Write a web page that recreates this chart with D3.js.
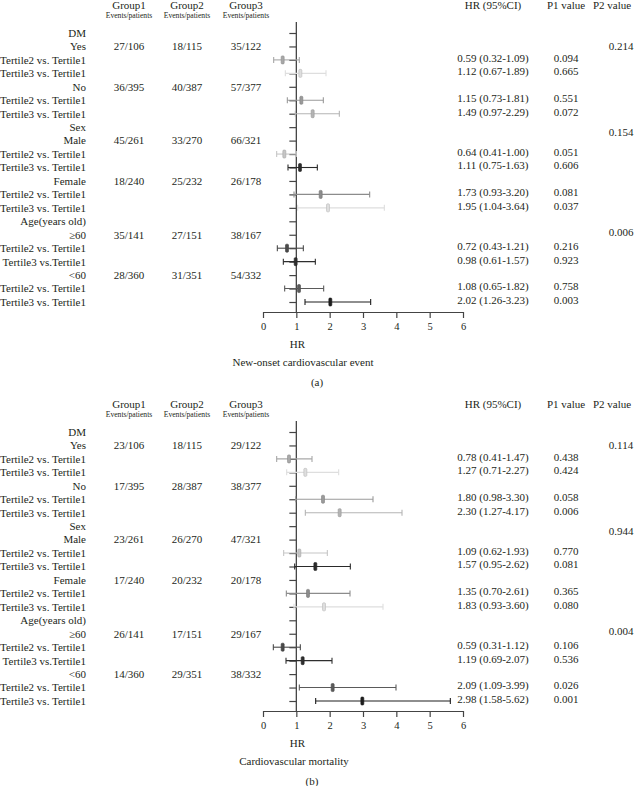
<!DOCTYPE html>
<html>
<head>
<meta charset="utf-8">
<script src="https://cdn.jsdelivr.net/npm/d3@7"></script>
<style>
  body { margin: 0; background: #fff; }
  svg text { font-family: "Liberation Serif", "Times New Roman", serif; fill: #231f20; }
</style>
</head>
<body>
<div class="chart"></div>
<script>
// row labels shared by both panels
var rowLabels = [
  "DM", "Yes", "Tertile2 vs. Tertile1", "Tertile3 vs. Tertile1",
  "No", "Tertile2 vs. Tertile1", "Tertile3 vs. Tertile1",
  "Sex", "Male", "Tertile2 vs. Tertile1", "Tertile3 vs. Tertile1",
  "Female", "Tertile2 vs. Tertile1", "Tertile3 vs. Tertile1",
  "Age(years old)", "≥60", "Tertile2 vs. Tertile1", "Tertile3 vs.Tertile1",
  "<60", "Tertile2 vs. Tertile1", "Tertile3 vs. Tertile1"
];
var groupNames = ["Group1", "Group2", "Group3"];
var xTicks = [0, 1, 2, 3, 4, 5, 6];

// panel (a) - new-onset cardiovascular event
var group1A = ["27/106", "36/395", "45/261", "18/240", "35/141", "28/360"];
var group2A = ["18/115", "40/387", "33/270", "25/232", "27/151", "31/351"];
var group3A = ["35/122", "57/377", "66/321", "26/178", "38/167", "54/332"];
var hrA   = [0.59, 1.12, 1.15, 1.49, 0.64, 1.11, 1.73, 1.95, 0.72, 0.98, 1.08, 2.02];
var lowA  = [0.32, 0.67, 0.73, 0.97, 0.41, 0.75, 0.93, 1.04, 0.43, 0.61, 0.65, 1.26];
var highA = [1.09, 1.89, 1.81, 2.29, 1.00, 1.63, 3.20, 3.64, 1.21, 1.57, 1.82, 3.23];
var p1A = ["0.094", "0.665", "0.551", "0.072", "0.051", "0.606", "0.081", "0.037", "0.216", "0.923", "0.758", "0.003"];
var p2A = ["0.214", "0.154", "0.006"];

// panel (b) - cardiovascular mortality
var group1B = ["23/106", "17/395", "23/261", "17/240", "26/141", "14/360"];
var group2B = ["18/115", "28/387", "26/270", "20/232", "17/151", "29/351"];
var group3B = ["29/122", "38/377", "47/321", "20/178", "29/167", "38/332"];
var hrB   = [0.78, 1.27, 1.80, 2.30, 1.09, 1.57, 1.35, 1.83, 0.59, 1.19, 2.09, 2.98];
var lowB  = [0.41, 0.71, 0.98, 1.27, 0.62, 0.95, 0.70, 0.93, 0.31, 0.69, 1.09, 1.58];
var highB = [1.47, 2.27, 3.30, 4.17, 1.93, 2.62, 2.61, 3.60, 1.12, 2.07, 3.99, 5.62];
var p1B = ["0.438", "0.424", "0.058", "0.006", "0.770", "0.081", "0.365", "0.080", "0.106", "0.536", "0.026", "0.001"];
var p2B = ["0.114", "0.944", "0.004"];

// styling of each comparison row (grey shades, same in both panels)
var markColors = ["#a8a8a8", "#dedede", "#9a9a9a", "#b4b4b4", "#c6c6c6", "#2a2a2a",
                  "#8c8c8c", "#dedede", "#4a4a4a", "#2e2e2e", "#5a5a5a", "#1e1e1e"];
// where the P2 values sit (in row units)
var p2Rows = [1, 7.4, 14.8];

var svgWidth = 638;
var svgHeight = 786;

var svg = d3.select(".chart")
  .append("svg")
  .attr("width", svgWidth)
  .attr("height", svgHeight);

var panels = [
  { offset: 0, groups: [group1A, group2A, group3A], hr: hrA, low: lowA, high: highA, p1: p1A, p2: p2A,
    title: "New-onset cardiovascular event", titleX: 303, letter: "(a)", letterX: 317 },
  { offset: 399, groups: [group1B, group2B, group3B], hr: hrB, low: lowB, high: highB, p1: p1B, p2: p2B,
    title: "Cardiovascular mortality", titleX: 294, letter: "(b)", letterX: 312 }
];

// column positions
var labelRight = 86;
var groupX = [129, 187, 246];
var hrTextX = 493, p1X = 566, p2X = 621;

var comparisonRows = d3.range(rowLabels.length).filter(i => rowLabels[i].indexOf("Tertile") === 0);
var subgroupRows = d3.range(rowLabels.length).filter(i =>
  rowLabels[i].indexOf("Tertile") !== 0 && i + 1 < rowLabels.length && rowLabels[i + 1].indexOf("Tertile") === 0);

panels.forEach(function(p) {
  var g = svg.append("g").attr("transform", `translate(0, ${p.offset})`);

  var x = d3.scaleLinear().domain([0, 6]).range([263, 463]);
  var y = d3.scaleLinear().domain([0, rowLabels.length - 1]).range([33, 302]);
  var axisY = y(rowLabels.length - 1) + 10;

  // headers
  g.selectAll(".grp").data(groupNames).enter().append("text")
    .attr("x", (d, i) => groupX[i]).attr("y", 8.5)
    .attr("text-anchor", "middle").attr("font-size", 11).text(d => d);
  g.selectAll(".ep").data(groupNames).enter().append("text")
    .attr("x", (d, i) => groupX[i]).attr("y", 17.5)
    .attr("text-anchor", "middle").attr("font-size", 7.6).text("Events/patients");
  g.append("text").attr("x", hrTextX).attr("y", 8.5).attr("text-anchor", "middle")
    .attr("font-size", 11).text("HR (95%CI)");
  g.append("text").attr("x", p1X).attr("y", 8.5).attr("text-anchor", "middle")
    .attr("font-size", 11).text("P1 value");
  g.append("text").attr("x", 593).attr("y", 8.5)
    .attr("font-size", 11).text("P2 value");

  // row labels
  g.selectAll(".lbl").data(rowLabels).enter().append("text")
    .attr("x", labelRight).attr("y", (d, i) => y(i)).attr("dy", "0.35em")
    .attr("text-anchor", "end").attr("font-size", 11).text(d => d);

  // events / patients
  p.groups.forEach(function(col, c) {
    g.selectAll(".ev" + c).data(col).enter().append("text")
      .attr("x", groupX[c]).attr("y", (d, i) => y(subgroupRows[i])).attr("dy", "0.35em")
      .attr("text-anchor", "middle").attr("font-size", 11).text(d => d);
  });

  // reference line at HR = 1 with row ticks
  g.append("line")
    .attr("x1", x(1)).attr("x2", x(1))
    .attr("y1", y(0) - 11).attr("y2", axisY)
    .attr("stroke", "#444").attr("stroke-width", 1.3);

  var rowAxis = d3.axisLeft(y).tickValues(d3.range(rowLabels.length)).tickSize(7).tickSizeOuter(0).tickFormat("");
  var ra = g.append("g").attr("transform", `translate(${x(1)},0)`).call(rowAxis);
  ra.select(".domain").remove();
  ra.selectAll("line").attr("stroke", "#444").attr("stroke-width", 1.2);

  // x axis
  var bottomAxis = d3.axisBottom(x).tickValues(xTicks).tickFormat(d3.format("d"))
    .tickSize(6).tickSizeOuter(0).tickPadding(5);
  var xa = g.append("g").attr("transform", `translate(0, ${axisY})`).call(bottomAxis);
  xa.select(".domain").attr("stroke", "#444").attr("stroke-width", 1.2);
  xa.selectAll("line").attr("stroke", "#444").attr("stroke-width", 1.2);
  xa.selectAll("text").attr("font-size", 10.5).attr("font-family", "Liberation Serif, serif").attr("fill", "#231f20");

  // confidence intervals
  var rows = comparisonRows.map((r, i) => ({ row: r, hr: p.hr[i], low: p.low[i], high: p.high[i], p1: p.p1[i], color: markColors[i] }));
  var ci = g.selectAll(".ci").data(rows).enter().append("g");
  ci.append("line")
    .attr("x1", d => x(d.low)).attr("x2", d => x(d.high))
    .attr("y1", d => y(d.row)).attr("y2", d => y(d.row))
    .attr("stroke", d => d.color).attr("stroke-width", 1.1);
  ci.append("line")
    .attr("x1", d => x(d.low)).attr("x2", d => x(d.low))
    .attr("y1", d => y(d.row) - 3).attr("y2", d => y(d.row) + 3)
    .attr("stroke", d => d.color).attr("stroke-width", 1.1);
  ci.append("line")
    .attr("x1", d => x(d.high)).attr("x2", d => x(d.high))
    .attr("y1", d => y(d.row) - 3).attr("y2", d => y(d.row) + 3)
    .attr("stroke", d => d.color).attr("stroke-width", 1.1);
  ci.append("rect")
    .attr("x", d => x(d.hr) - 1.5).attr("y", d => y(d.row) - 4)
    .attr("width", 3).attr("height", 8).attr("rx", 1)
    .attr("fill", d => d.color)
    .attr("stroke", d => d3.color(d.color).darker(0.5)).attr("stroke-width", 0.6);

  // HR text and P values
  g.selectAll(".hrt").data(rows).enter().append("text")
    .attr("x", hrTextX).attr("y", d => y(d.row) - 2).attr("dy", "0.35em")
    .attr("text-anchor", "middle").attr("font-size", 11)
    .text(d => `${d.hr.toFixed(2)} (${d.low.toFixed(2)}-${d.high.toFixed(2)})`);
  g.selectAll(".p1").data(rows).enter().append("text")
    .attr("x", p1X).attr("y", d => y(d.row) - 2).attr("dy", "0.35em")
    .attr("text-anchor", "middle").attr("font-size", 11).text(d => d.p1);
  g.selectAll(".p2").data(p.p2).enter().append("text")
    .attr("x", p2X).attr("y", (d, i) => y(p2Rows[i])).attr("dy", "0.35em")
    .attr("text-anchor", "middle").attr("font-size", 11).text(d => d);

  // axis labels
  g.append("text").attr("x", x(1) + 1).attr("y", axisY + 36)
    .attr("text-anchor", "middle").attr("font-size", 11).text("HR");
  g.append("text").attr("x", p.titleX).attr("y", axisY + 54)
    .attr("text-anchor", "middle").attr("font-size", 11).text(p.title);
  g.append("text").attr("x", p.letterX).attr("y", axisY + 74)
    .attr("text-anchor", "middle").attr("font-size", 11).text(p.letter);
});
</script>
</body>
</html>
